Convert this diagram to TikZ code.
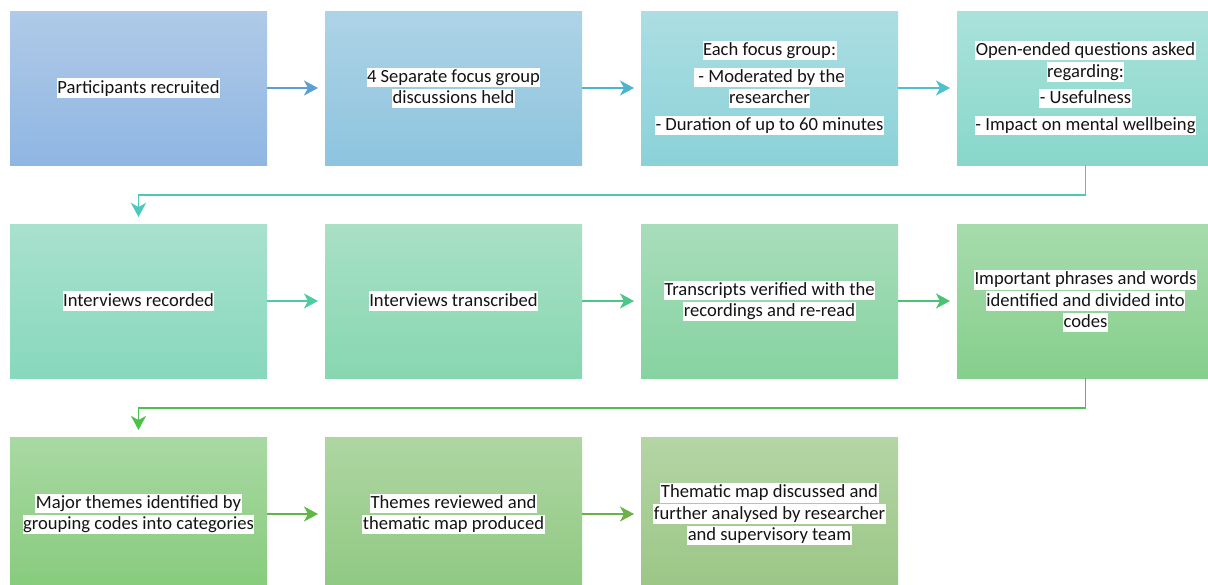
\documentclass[tikz,border=0pt]{standalone}
\usepackage{fontspec}
\setmainfont{Carlito}
\usetikzlibrary{arrows.meta}
\definecolor{aT}{HTML}{B0CAE8}\definecolor{aB}{HTML}{8FB6E2}
\definecolor{bT}{HTML}{AED3E6}\definecolor{bB}{HTML}{8DC4DF}
\definecolor{cT}{HTML}{ACDEE3}\definecolor{cB}{HTML}{8AD2D8}
\definecolor{dT}{HTML}{AAE2DB}\definecolor{dB}{HTML}{88D7CA}
\definecolor{eT}{HTML}{A9E1CF}\definecolor{eB}{HTML}{87D8BC}
\definecolor{fT}{HTML}{A9E0C6}\definecolor{fB}{HTML}{87D7B1}
\definecolor{gT}{HTML}{A8DDBB}\definecolor{gB}{HTML}{86D3A0}
\definecolor{hT}{HTML}{A7DBAD}\definecolor{hB}{HTML}{86CF8C}
\definecolor{iT}{HTML}{A9D9A3}\definecolor{iB}{HTML}{86CB7C}
\definecolor{jT}{HTML}{AED6A2}\definecolor{jB}{HTML}{8FC982}
\definecolor{kT}{HTML}{B4D5A5}\definecolor{kB}{HTML}{9BC686}
\definecolor{ar1}{HTML}{5B9FD6}
\definecolor{ar2}{HTML}{4DB4D0}
\definecolor{ar3}{HTML}{4CC3CC}
\definecolor{ar4}{HTML}{4EC8B8}
\definecolor{ar5}{HTML}{4DCCA0}
\definecolor{ar6}{HTML}{4CC78A}
\definecolor{ar7}{HTML}{4AC375}
\definecolor{ar8}{HTML}{4CC14E}
\definecolor{ar9}{HTML}{5EB843}
\definecolor{ar10}{HTML}{6CB146}
\newcommand{\hl}[1]{{\setlength{\fboxsep}{0pt}\colorbox{white}{\kern0.5pt\rule[-4.6pt]{0pt}{19.4pt}#1\kern0.5pt}}}
\begin{document}
\begin{tikzpicture}[x=1pt,y=-1pt,
  box/.style={anchor=north west, minimum width=257pt, minimum height=154pt,
    inner sep=0pt, outer sep=0pt, align=center,
    font=\fontsize{18.6}{21.2}\selectfont, text=black!92},
  conn/.style={line width=1.9pt, -{Stealth[length=14pt,width=15pt,inset=4pt]}, shorten >=7pt}]
\clip (0,0) rectangle (1208,584);
\fill[white] (0,0) rectangle (1208,584);
% row 1
\node[box, top color=aT, bottom color=aB] (a1) at (10,11) {\hl{Participants recruited}};
\node[box, top color=bT, bottom color=bB] (a2) at (325,11) {\hl{4 Separate focus group}\\\hl{discussions held}};
\node[box, top color=cT, bottom color=cB] (a3) at (641,11) {\hl{Each focus group:}\\[5.5pt]\hl{\ - Moderated by the}\\\hl{researcher}\\[5.5pt]\hl{- Duration of up to 60 minutes}};
\node[box, top color=dT, bottom color=dB] (a4) at (957,11) {\hl{Open-ended questions asked}\\\hl{regarding:}\\[5.5pt]\hl{- Usefulness}\\[5.5pt]\hl{- Impact on mental wellbeing}};
% row 2
\node[box, top color=eT, bottom color=eB] (b1) at (10,224) {\hl{Interviews recorded}};
\node[box, top color=fT, bottom color=fB] (b2) at (325,224) {\hl{Interviews transcribed}};
\node[box, top color=gT, bottom color=gB] (b3) at (641,224) {\hl{Transcripts verified with the}\\\hl{recordings and re-read}};
\node[box, top color=hT, bottom color=hB] (b4) at (957,224) {\hl{Important phrases and words}\\\hl{identified and divided into}\\\hl{codes}};
% row 3
\node[box, top color=iT, bottom color=iB] (c1) at (10,437) {\hl{Major themes identified by}\\\hl{grouping codes into categories}};
\node[box, top color=jT, bottom color=jB] (c2) at (325,437) {\hl{Themes reviewed and}\\\hl{thematic map produced}};
\node[box, top color=kT, bottom color=kB] (c3) at (641,437) {\hl{Thematic map discussed and}\\\hl{further analysed by researcher}\\\hl{and supervisory team}};
% connectors
\draw[conn, ar1] (a1.east) -- (a2.west);
\draw[conn, ar2] (a2.east) -- (a3.west);
\draw[conn, ar3] (a3.east) -- (a4.west);
\draw[conn, ar4] (a4.south) -- ++(0,30) -| (b1.north);
\draw[conn, ar5] (b1.east) -- (b2.west);
\draw[conn, ar6] (b2.east) -- (b3.west);
\draw[conn, ar7] (b3.east) -- (b4.west);
\draw[conn, ar8] (b4.south) -- ++(0,30) -| (c1.north);
\draw[conn, ar9] (c1.east) -- (c2.west);
\draw[conn, ar10] (c2.east) -- (c3.west);
\end{tikzpicture}
\end{document}
